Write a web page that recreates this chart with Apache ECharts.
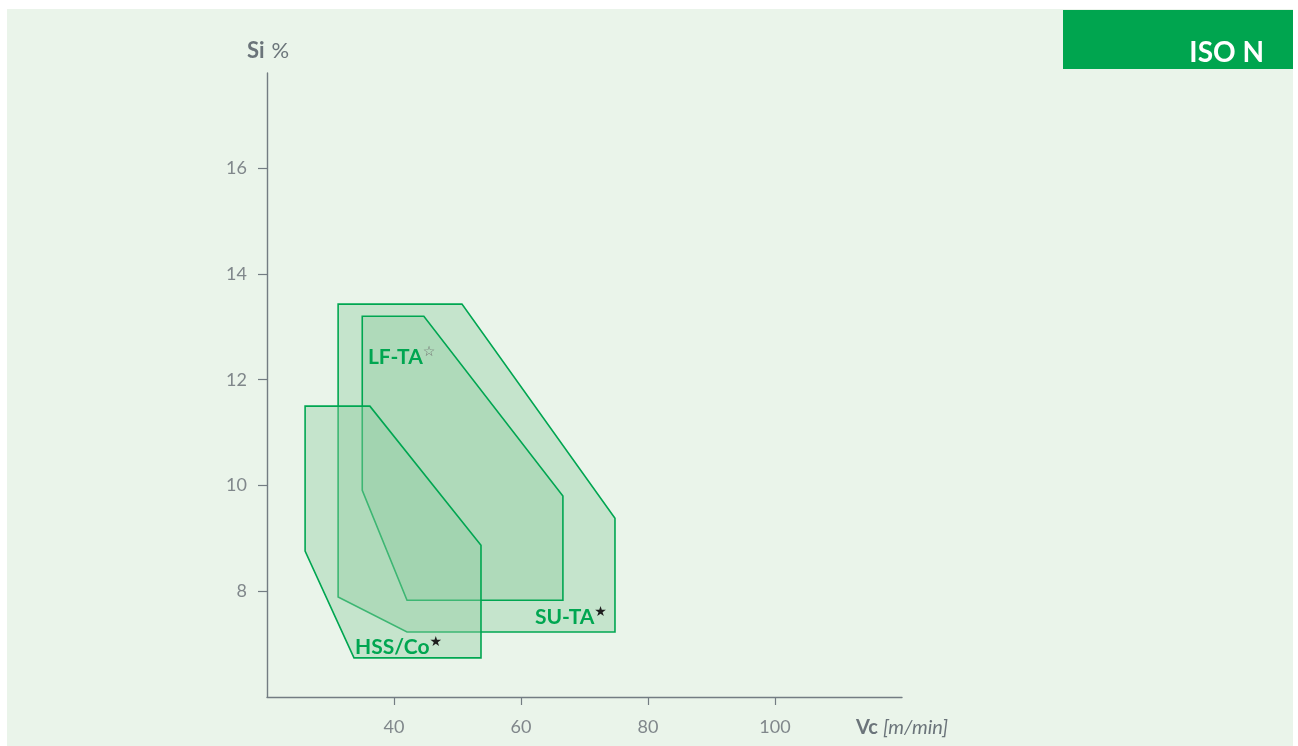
<!DOCTYPE html>
<html>
<head>
<meta charset="utf-8">
<script src="https://cdn.jsdelivr.net/npm/echarts@6/dist/echarts.min.js"></script>
<style>
html,body{margin:0;padding:0;background:#fff;}
#chart{width:1298px;height:746px;}
</style>
</head>
<body>
<div id="chart"></div>
<script>
// Polygon vertices [Vc, Si]
const suTaPoly = [[31.2,13.43],[50.7,13.43],[74.8,9.38],[74.8,7.23],[42.05,7.23],[31.2,7.89]];
const lfTaPoly = [[35.0,13.2],[44.7,13.2],[66.6,9.8],[66.6,7.83],[42.05,7.83],[35.0,9.91]];
const hssCoPoly = [[26.0,11.5],[36.2,11.5],[53.7,8.87],[53.7,6.74],[33.7,6.74],[26.0,8.76]];

// Labels: [Vc, Si, name, star]
const zoneLabels = [
  [35.9, 12.2, 'LF-TA', '☆'],
  [62.2, 7.28, 'SU-TA', '★'],
  [33.86, 6.72, 'HSS/Co', '★']
];

const xTicks = [40, 60, 80, 100];
const yTicks = [8, 10, 12, 14, 16];
const xTitle = 'Vc';
const xUnit = '[m/min]';
const yTitle = 'Si';
const yUnit = '%';
const badgeText = 'ISO N';

const GREEN = '#00a651';
const FILL = 'rgba(145,206,161,0.42)';
const AXIS = '#737c82';
const LABEL = '#80878b';
const TITLE = '#6b747a';

function polySeries(name, pts) {
  return {
    type: 'custom',
    name: name,
    data: pts,
    renderItem: function (params, api) {
      if (params.dataIndex !== 0) return null;
      const p = pts.map(function (d) { return api.coord(d); });
      return {
        type: 'polygon',
        shape: { points: p },
        style: { fill: FILL, stroke: GREEN, lineWidth: 1.6 }
      };
    },
    silent: true,
    z: 2
  };
}

const chart = echarts.init(document.getElementById('chart'), null, { renderer: 'canvas' });

const option = {
  backgroundColor: '#ffffff',
  animation: false,
  grid: { left: 267, right: 396, top: 73, bottom: 49 },
  xAxis: {
    type: 'value', min: 20, max: 120, interval: 20,
    axisLine: { show: true, lineStyle: { color: AXIS, width: 1.4 } },
    axisTick: { show: true, length: 8, customValues: xTicks, lineStyle: { color: AXIS, width: 1.2 } },
    axisLabel: { customValues: xTicks, margin: 21, color: LABEL, fontFamily: 'Lato', fontSize: 18 },
    splitLine: { show: false }
  },
  yAxis: {
    type: 'value', min: 6, max: 17.8, interval: 2,
    axisLine: { show: true, lineStyle: { color: AXIS, width: 1.4 } },
    axisTick: { show: true, length: 9, customValues: yTicks, lineStyle: { color: AXIS, width: 1.2 } },
    axisLabel: { customValues: yTicks, margin: 20, color: LABEL, fontFamily: 'Lato', fontSize: 18 },
    splitLine: { show: false }
  },
  graphic: [
    { type: 'rect', z: -100, shape: { x: 7, y: 9, width: 1286, height: 737 }, style: { fill: '#eaf4ea' } },
    { type: 'rect', z: 10, shape: { x: 1063, y: 10, width: 230, height: 59 }, style: { fill: '#00a54f' } },
    { type: 'text', z: 11, x: 1264, y: 53, style: { text: badgeText, fill: '#ffffff', font: 'bold 28px Lato', align: 'right', verticalAlign: 'middle' } },
    { type: 'text', z: 11, x: 247, y: 51, style: {
        text: '{b|' + yTitle + '}{r|' + yUnit + '}', align: 'left', verticalAlign: 'middle',
        rich: { b: { font: 'bold 22px Lato', fill: TITLE }, r: { font: '22px Lato', fill: TITLE, padding: [0, 0, 0, 7] } } } },
    { type: 'text', z: 11, x: 856, y: 728, style: {
        text: '{b|' + xTitle + '}{r|' + xUnit + '}', align: 'left', verticalAlign: 'middle',
        rich: { b: { font: 'bold 20px Lato', fill: TITLE }, r: { font: 'italic 20px Lato', fill: TITLE, padding: [0, 0, 0, 5] } } } }
  ],
  series: [
    polySeries('SU-TA', suTaPoly),
    polySeries('LF-TA', lfTaPoly),
    polySeries('HSS/Co', hssCoPoly),
    {
      type: 'custom',
      name: 'labels',
      data: zoneLabels,
      z: 5,
      silent: true,
      renderItem: function (params, api) {
        const d = zoneLabels[params.dataIndex];
        const c = api.coord([d[0], d[1]]);
        const starColor = d[3] === '☆' ? '#6f6f6f' : '#1e1e1e';
        return {
          type: 'text',
          x: c[0], y: c[1],
          style: {
            text: '{n|' + d[2] + '}{s|' + d[3] + '}',
            align: 'left', verticalAlign: 'bottom',
            rich: {
              n: { font: 'bold 21px Lato', fill: GREEN, lineHeight: 24 },
              s: { font: '14px "DejaVu Sans"', fill: starColor, verticalAlign: 'top', lineHeight: 24, padding: [0, 0, 8, 0] }
            }
          }
        };
      }
    }
  ]
};
chart.setOption(option);
</script>
</body>
</html>
